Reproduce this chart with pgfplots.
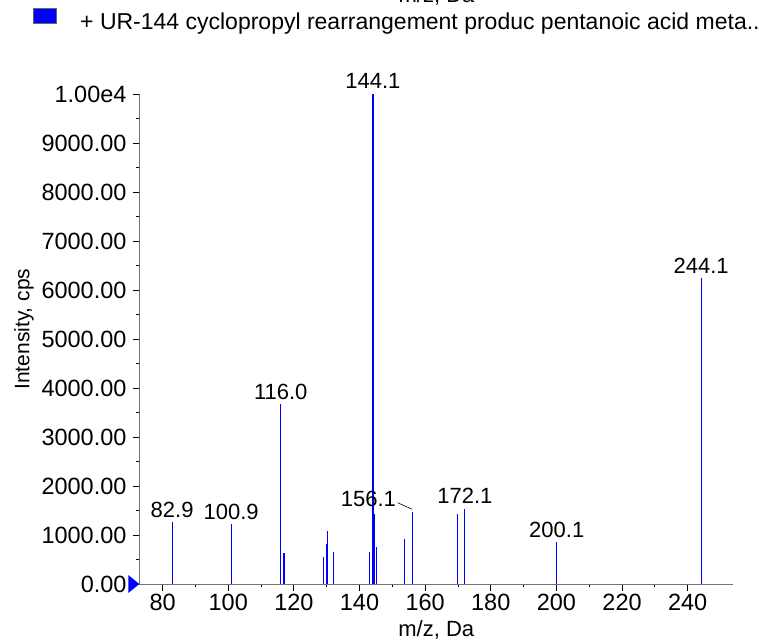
\documentclass[border=0pt]{standalone}
\usepackage{fontspec}
\setmainfont{Liberation Sans}
\usepackage{pgfplots}
\pgfplotsset{compat=1.18}
\pgfdeclareplotmark{rtri}{%
  \pgfpathmoveto{\pgfpoint{0pt}{0pt}}%
  \pgfpathlineto{\pgfpoint{-11pt}{9pt}}%
  \pgfpathlineto{\pgfpoint{-11pt}{-9pt}}%
  \pgfpathclose\pgfusepathqfill}
\begin{document}
\fontsize{21pt}{25pt}\selectfont
\begin{tikzpicture}
\begin{axis}[
  scale only axis, width=594pt, height=490pt,
  xmin=72.9, xmax=253.9, ymin=0, ymax=10000,
  axis x line*=bottom, axis y line*=left,
  axis line style={-, draw=black!55, line width=0.9pt},
  clip=false,
  scaled y ticks=false, scaled x ticks=false,
  xtick={80,100,...,240},
  xticklabels={80,100,120,140,160,180,200,220,240},
  ytick={0,1000,...,10000},
  yticklabels={0.00,1000.00,2000.00,3000.00,4000.00,5000.00,6000.00,7000.00,8000.00,9000.00,1.00e4},
  minor x tick num=1, minor y tick num=1,
  tick align=outside, major tick length=6.6pt, minor tick length=3.3pt,
  tick style={black, line width=0.8pt},
  tick label style={font=\fontsize{23.5pt}{27pt}\selectfont},
  xticklabel style={anchor=north, inner sep=0pt, yshift=-3pt},
  yticklabel style={anchor=east, inner sep=0pt, xshift=-6pt},
  xlabel={m/z, Da},
  xlabel style={at={(axis description cs:0.5,-0.1076)}, anchor=base, inner sep=0pt, font=\fontsize{22pt}{26pt}\selectfont},
  ylabel={Intensity, cps},
  ylabel style={at={(axis description cs:-0.1941,0.520)}, anchor=center, inner sep=0pt},
]
\addplot[ycomb, color=blue, line width=1.15pt, mark=none] coordinates {
  (82.9,1265) (100.9,1224) (116.0,3670) (117.0,640)
  (129.1,545) (129.9,816) (130.3,1088) (132.2,660)
  (143.0,660) (144.1,10000) (144.6,1435) (145.2,761)
  (153.8,918) (156.1,1476) (169.9,1428) (172.1,1537)
  (200.1,857) (244.1,6239)
};
\addplot[draw=none, mark=none, nodes near coords, point meta=explicit symbolic,
  every node near coord/.append style={anchor=base, yshift=5pt, text=black, inner sep=0pt, font=\fontsize{22pt}{26pt}\selectfont}]
  coordinates {
  (82.9,1265) [82.9] (100.9,1224) [100.9] (116.0,3670) [116.0]
  (144.1,10000) [144.1] (172.1,1537) [172.1] (200.1,857) [200.1] (244.1,6239) [244.1]
};
\node[anchor=base, inner sep=0pt, text=black, font=\fontsize{22pt}{26pt}\selectfont] at (axis cs:142.7,1578) {156.1};
\draw[black, line width=0.6pt] (axis cs:151.64,1659) -- (axis cs:156.08,1524);
\addplot[only marks, mark=rtri, color=blue] coordinates {(72.9,0)};
\end{axis}
% legend (outside the plot area, above)
\fill[blue, draw=black!60, line width=0.6pt] (-106.3pt,561pt) rectangle (-83.3pt,576pt);
\node[anchor=base west, inner sep=0pt, font=\fontsize{23pt}{27pt}\selectfont] at (-59.3pt,554pt) {+ UR-144 cyclopropyl rearrangement produc pentanoic acid meta..};
\node[anchor=base, inner sep=0pt, font=\fontsize{22pt}{26pt}\selectfont] at (297.2pt,581pt) {m/z, Da};
\pgfresetboundingbox
\path[use as bounding box] (-139.3pt,-59pt) rectangle (619.7pt,584pt);
\end{tikzpicture}
\end{document}
